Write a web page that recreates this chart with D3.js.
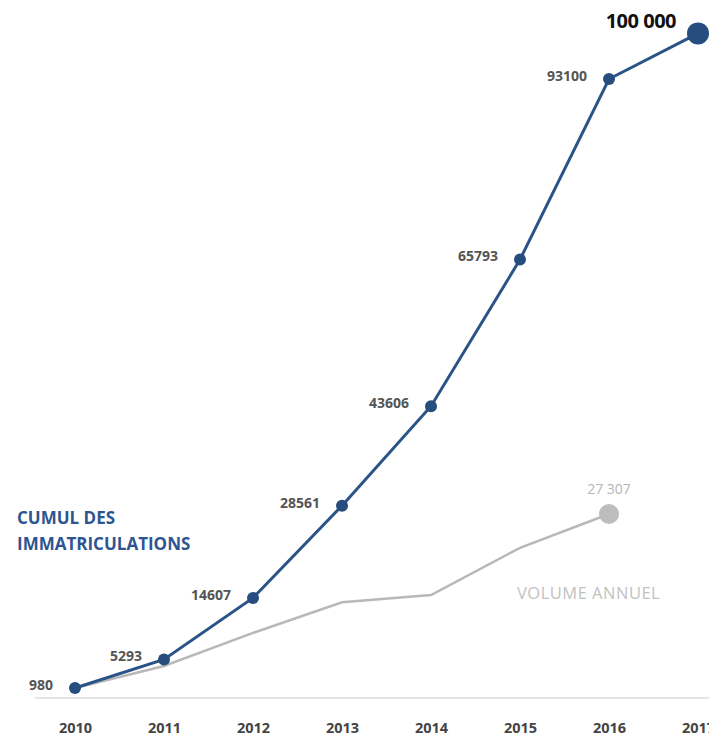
<!DOCTYPE html>
<html>
<head>
<meta charset="utf-8">
<script src="https://cdn.jsdelivr.net/npm/d3@7"></script>
<style>
  body { margin: 0; background: #fff; }
  svg { display: block; font-family: "Open Sans", Lato, sans-serif; }
</style>
</head>
<body>
<svg id="chart" width="709" height="739"></svg>
<script>
// Cumulative registrations vs annual volume

const years = [2010, 2011, 2012, 2013, 2014, 2015, 2016, 2017];
const cumul = [980, 5293, 14607, 28561, 43606, 65793, 93100, 100000];
const annual = [980, 4313, 9314, 13954, 15045, 22187, 27307];

const width = 709, height = 739;
const svg = d3.select('#chart');

const x = d3.scaleLinear().domain([2010, 2017]).range([75, 698]);
const y = d3.scaleLinear().domain([0, 100000]).range([694.5, 33.4]);

// baseline + year labels
const xAxis = d3.axisBottom(x)
  .tickValues(years)
  .tickFormat(d3.format('d'))
  .tickSize(0)
  .tickPadding(25);

const ax = svg.append('g')
  .attr('transform', 'translate(0,698)')
  .call(xAxis);
ax.select('.domain').remove();
ax.append('line')
  .attr('x1', 35).attr('x2', width)
  .attr('stroke', '#dcdcdc').attr('stroke-width', 1.5);
ax.selectAll('.tick text')
  .attr('fill', '#444')
  .attr('font-family', '"Open Sans", sans-serif')
  .attr('font-size', 14.5)
  .attr('font-weight', 'bold');

const line = d3.line()
  .x((d, i) => x(years[i]))
  .y(d => y(d));

// annual volume (grey)
svg.append('path')
  .datum(annual)
  .attr('fill', 'none')
  .attr('stroke', '#b8b8b8')
  .attr('stroke-width', 2.5)
  .attr('d', line);

const lastA = annual.length - 1;
svg.append('circle')
  .attr('cx', x(years[lastA]))
  .attr('cy', y(annual[lastA]))
  .attr('r', 10)
  .attr('fill', '#bdbdbd');

svg.append('text')
  .attr('x', x(years[lastA]))
  .attr('y', y(annual[lastA]) - 20)
  .attr('text-anchor', 'middle')
  .attr('fill', '#b5b5b5')
  .attr('font-size', 14)
  .text('27 307');

// cumulative (blue)
svg.append('path')
  .datum(cumul)
  .attr('fill', 'none')
  .attr('stroke', '#2a5387')
  .attr('stroke-width', 3)
  .attr('d', line);

svg.selectAll('.dot')
  .data(cumul)
  .join('circle')
  .attr('class', 'dot')
  .attr('cx', (d, i) => x(years[i]))
  .attr('cy', d => y(d))
  .attr('r', (d, i) => i === cumul.length - 1 ? 11 : 6)
  .attr('fill', '#264d7e');

svg.selectAll('.val')
  .data(cumul.slice(0, -1))
  .join('text')
  .attr('class', 'val')
  .attr('x', (d, i) => x(years[i]) - 22)
  .attr('y', d => y(d) - 3)
  .attr('dy', '0.35em')
  .attr('text-anchor', 'end')
  .attr('fill', '#555')
  .attr('font-size', 14)
  .attr('font-weight', 'bold')
  .text(d => d);

svg.append('text')
  .attr('x', x(2017) - 22)
  .attr('y', 28)
  .attr('text-anchor', 'end')
  .attr('fill', '#111')
  .attr('font-size', 20)
  .attr('font-weight', 'bold')
  .attr('letter-spacing', -0.5)
  .text('100 000');

// series names
const legend = svg.append('text')
  .attr('fill', '#2e5590')
  .attr('font-size', 17)
  .attr('font-weight', 'bold');
legend.append('tspan').attr('x', 17).attr('y', 524).text('CUMUL DES');
legend.append('tspan').attr('x', 17).attr('y', 550).text('IMMATRICULATIONS');

svg.append('text')
  .attr('x', 517)
  .attr('y', 599)
  .attr('fill', '#c2c2c2')
  .attr('font-size', 16.5)
  .attr('letter-spacing', 0.5)
  .text('VOLUME ANNUEL');
</script>
</body>
</html>
